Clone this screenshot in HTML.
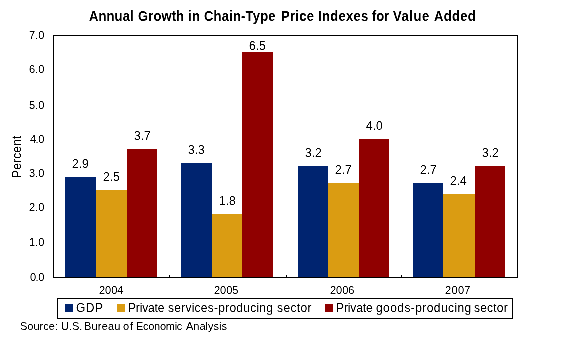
<!DOCTYPE html>
<html><head><meta charset="utf-8"><style>
html,body{margin:0;padding:0;background:#fff;width:564px;height:341px;overflow:hidden;position:relative}
div{position:absolute;box-sizing:border-box}
.t{font-family:"Liberation Sans",sans-serif;color:#000;white-space:nowrap;line-height:1;will-change:transform;background:#fff;filter:contrast(2)}
.plot{left:53px;top:35px;width:465px;height:243px;border:1px solid #000}
.tk{top:275px;width:1px;height:2px;background:#000}
.leg{left:57px;top:298px;width:456px;height:21px;border:1px solid #000}
.sw{top:304px;width:8px;height:8px}
</style></head><body>
<div class="plot"></div>
<div class="tk" style="left:169px"></div>
<div class="tk" style="left:286px"></div>
<div class="tk" style="left:401px"></div>
<div class="b" style="left:65px;top:177px;width:31px;height:100px;background:#002470"></div>
<div class="b" style="left:96px;top:190px;width:31px;height:87px;background:#DA9C12"></div>
<div class="b" style="left:127px;top:149px;width:30px;height:128px;background:#900000"></div>
<div class="b" style="left:181px;top:163px;width:31px;height:114px;background:#002470"></div>
<div class="b" style="left:212px;top:214px;width:30px;height:63px;background:#DA9C12"></div>
<div class="b" style="left:242px;top:52px;width:31px;height:225px;background:#900000"></div>
<div class="b" style="left:298px;top:166px;width:30px;height:111px;background:#002470"></div>
<div class="b" style="left:328px;top:183px;width:31px;height:94px;background:#DA9C12"></div>
<div class="b" style="left:359px;top:139px;width:30px;height:138px;background:#900000"></div>
<div class="b" style="left:413px;top:183px;width:30px;height:94px;background:#002470"></div>
<div class="b" style="left:443px;top:194px;width:32px;height:83px;background:#DA9C12"></div>
<div class="b" style="left:475px;top:166px;width:30px;height:111px;background:#900000"></div>
<div class="leg"></div>
<div class="sw" style="left:65px;background:#002470"></div>
<div class="sw" style="left:117px;background:#DA9C12"></div>
<div class="sw" style="left:325px;background:#900000"></div>
<div class="t" style="left:89px;top:9px;font-size:13px;font-weight:bold;letter-spacing:0.104px;transform-origin:0 0;transform:scaleY(1.1);">Annual</div>
<div class="t" style="left:138px;top:9px;font-size:13px;font-weight:bold;letter-spacing:0.104px;transform-origin:0 0;transform:scaleY(1.1);">Growth</div>
<div class="t" style="left:188px;top:9px;font-size:13px;font-weight:bold;letter-spacing:0.3px;transform-origin:0 0;transform:scaleY(1.1);">in</div>
<div class="t" style="left:204px;top:9px;font-size:13px;font-weight:bold;letter-spacing:0.193px;transform-origin:0 0;transform:scaleY(1.1);">Chain-Type</div>
<div class="t" style="left:281px;top:9px;font-size:13px;font-weight:bold;letter-spacing:0.304px;transform-origin:0 0;transform:scaleY(1.1);">Price</div>
<div class="t" style="left:318px;top:9px;font-size:13px;font-weight:bold;letter-spacing:0.304px;transform-origin:0 0;transform:scaleY(1.1);">Indexes</div>
<div class="t" style="left:372px;top:9px;font-size:13px;font-weight:bold;letter-spacing:-0.196px;transform-origin:0 0;transform:scaleY(1.1);">for</div>
<div class="t" style="left:393px;top:9px;font-size:13px;font-weight:bold;letter-spacing:0.554px;transform-origin:0 0;transform:scaleY(1.1);">Value</div>
<div class="t" style="left:434px;top:9px;font-size:13px;font-weight:bold;letter-spacing:0.304px;transform-origin:0 0;transform:scaleY(1.1);">Added</div>
<div class="t" style="left:29px;top:30px;font-size:11px;">7.0</div>
<div class="t" style="left:29px;top:64px;font-size:11px;">6.0</div>
<div class="t" style="left:29px;top:100px;font-size:11px;">5.0</div>
<div class="t" style="left:30px;top:134px;font-size:11px;letter-spacing:-0.5px;">4.0</div>
<div class="t" style="left:29px;top:168px;font-size:11px;">3.0</div>
<div class="t" style="left:29px;top:202px;font-size:11px;">2.0</div>
<div class="t" style="left:29px;top:237px;font-size:11px;">1.0</div>
<div class="t" style="left:30px;top:272px;font-size:11px;letter-spacing:-0.5px;">0.0</div>
<div class="t" style="left:99px;top:285px;font-size:11px;">2004</div>
<div class="t" style="left:214px;top:285px;font-size:11px;">2005</div>
<div class="t" style="left:330px;top:285px;font-size:11px;">2006</div>
<div class="t" style="left:445px;top:285px;font-size:11px;letter-spacing:0.333px;">2007</div>
<div class="t" style="left:76px;top:302px;font-size:12px;letter-spacing:0.5px;">GDP</div>
<div class="t" style="left:128px;top:302px;font-size:12px;letter-spacing:-0.146px;">Private</div>
<div class="t" style="left:168px;top:302px;font-size:12px;letter-spacing:0.246px;">services-producing</div>
<div class="t" style="left:277px;top:302px;font-size:12px;letter-spacing:0.388px;">sector</div>
<div class="t" style="left:336px;top:302px;font-size:12px;letter-spacing:-0.127px;">Private</div>
<div class="t" style="left:376px;top:302px;font-size:12px;letter-spacing:0.421px;">goods-producing</div>
<div class="t" style="left:474px;top:302px;font-size:12px;letter-spacing:0.207px;">sector</div>
<div class="t" style="left:20px;top:321px;font-size:11px;">Source:</div>
<div class="t" style="left:61px;top:321px;font-size:11px;">U.S.</div>
<div class="t" style="left:84px;top:321px;font-size:11px;letter-spacing:0.2px;">Bureau</div>
<div class="t" style="left:123px;top:321px;font-size:11px;letter-spacing:1.0px;">of</div>
<div class="t" style="left:136px;top:321px;font-size:11px;letter-spacing:-0.286px;">Economic</div>
<div class="t" style="left:186px;top:321px;font-size:11px;">Analysis</div>
<div class="t" style="left:11px;top:178px;font-size:12px;letter-spacing:0.167px;transform-origin:0 0;transform:rotate(-90deg);">Percent</div>
<div class="t" style="left:72.0px;top:158px;font-size:12px;">2.9</div>
<div class="t" style="left:103.0px;top:171px;font-size:12px;">2.5</div>
<div class="t" style="left:134.0px;top:130px;font-size:12px;">3.7</div>
<div class="t" style="left:188.0px;top:144px;font-size:12px;">3.3</div>
<div class="t" style="left:219.0px;top:195px;font-size:12px;">1.8</div>
<div class="t" style="left:249.0px;top:40px;font-size:12px;">6.5</div>
<div class="t" style="left:305.0px;top:147px;font-size:12px;">3.2</div>
<div class="t" style="left:335.0px;top:164px;font-size:12px;">2.7</div>
<div class="t" style="left:366.0px;top:120px;font-size:12px;">4.0</div>
<div class="t" style="left:420.0px;top:164px;font-size:12px;">2.7</div>
<div class="t" style="left:450.0px;top:175px;font-size:12px;">2.4</div>
<div class="t" style="left:482.0px;top:147px;font-size:12px;">3.2</div>
</body></html>
